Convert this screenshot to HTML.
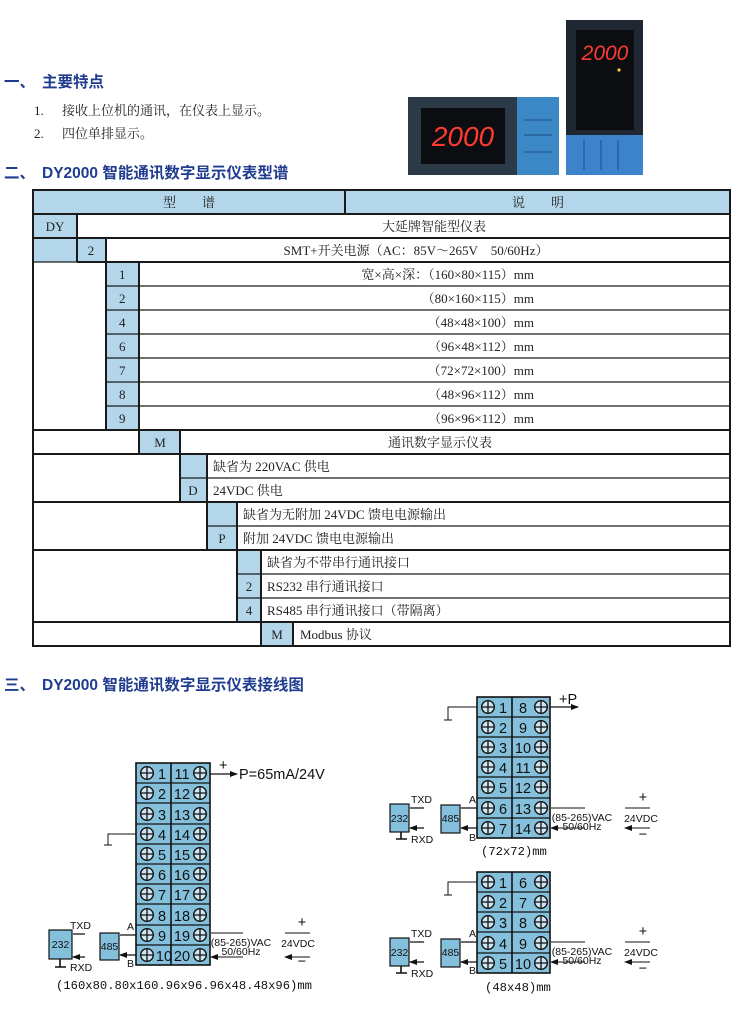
<!DOCTYPE html>
<html><head><meta charset="utf-8">
<style>
html,body{margin:0;padding:0;background:#fff;width:735px;height:1010px;overflow:hidden}
svg{display:block}
.h{font-family:"Liberation Sans","Noto Sans CJK SC",sans-serif;font-size:15.5px;fill:#1f3c8f;font-weight:bold}
.s{font-family:"Liberation Serif","Noto Serif CJK SC",serif;font-size:13px;fill:#222}
.n{font-family:"Liberation Sans",sans-serif;font-size:14.5px;fill:#111}
.sm{font-family:"Liberation Sans",sans-serif;font-size:10.5px;fill:#111}
.m{font-family:"Liberation Mono",monospace;font-size:12.2px;fill:#111}
</style></head><body>
<svg width="735" height="1010" viewBox="0 0 735 1010" xmlns="http://www.w3.org/2000/svg">
<defs>
<symbol id="t" viewBox="-7 -7 14 14" overflow="visible">
<circle r="6.3" fill="#cfe6f2" stroke="#111" stroke-width="1.4"/>
<path d="M-6.3 0H6.3M0 -6.3V6.3" stroke="#111" stroke-width="1.3"/>
</symbol>
<marker id="a" markerWidth="8" markerHeight="6" refX="7" refY="3" orient="auto" markerUnits="userSpaceOnUse">
<path d="M0 0L8 3L0 6Z" fill="#111"/></marker>
</defs>

<text x="4" y="87" class="h">一、</text><text x="42" y="87" class="h">主要特点</text>
<text x="34" y="115" class="s">1.</text><text x="62" y="115" class="s">接收上位机的通讯，在仪表上显示。</text>
<text x="34" y="138" class="s">2.</text><text x="62" y="138" class="s">四位单排显示。</text>
<text x="4" y="178" class="h">二、</text><text x="42" y="178" class="h">DY2000 智能通讯数字显示仪表型谱</text>
<text x="4" y="690" class="h">三、</text><text x="42" y="690" class="h">DY2000 智能通讯数字显示仪表接线图</text>

<rect x="408" y="97" width="110" height="78" fill="#2b3a46"/>
<rect x="421" y="108" width="84" height="56" fill="#0b0d10"/>
<text x="463" y="146" text-anchor="middle" font-family="Liberation Sans,sans-serif" font-size="28" font-style="italic" fill="#ff3a30">2000</text>
<rect x="517" y="97" width="42" height="78" fill="#3c87c6"/>
<path d="M524 120H552M524 135H552M524 152H552" stroke="#1d4f80"/>
<rect x="566" y="20" width="77" height="116" fill="#1f2832"/>
<rect x="576" y="30" width="58" height="100" fill="#0b0d10"/>
<text x="605" y="60" text-anchor="middle" font-family="Liberation Sans,sans-serif" font-size="21" font-style="italic" fill="#ff3a30">2000</text>
<circle cx="619" cy="70" r="1.6" fill="#ffc640"/>
<rect x="566" y="135" width="77" height="40" fill="#3c83cc"/>
<path d="M584 140V170M601 140V170M618 140V170" stroke="#1d4f80"/>

<g>
<rect x="33" y="190" width="697" height="24" fill="#b3d6ea"/>
<rect x="33" y="214" width="44" height="48" fill="#b3d6ea"/>
<rect x="77" y="238" width="29" height="24" fill="#b3d6ea"/>
<rect x="106" y="262" width="33" height="168" fill="#b3d6ea"/>
<rect x="139" y="430" width="41" height="24" fill="#b3d6ea"/>
<rect x="180" y="454" width="27" height="48" fill="#b3d6ea"/>
<rect x="207" y="502" width="30" height="48" fill="#b3d6ea"/>
<rect x="237" y="550" width="24" height="72" fill="#b3d6ea"/>
<rect x="261" y="622" width="32" height="24" fill="#b3d6ea"/>
<g stroke="#1a1a1a" stroke-width="2" fill="none">
<rect x="33" y="190" width="697" height="456"/>
<path d="M33 214H730M33 238H730M77 262H730M33 430H730M33 454H730M33 502H730M33 550H730M33 622H730"/>
<path d="M345 190V214M77 214V262M106 238V430M139 262V454M180 430V502M207 454V550M237 502V622M261 550V646M293 622V646"/>
</g>
<g stroke="#1a1a1a" stroke-width="1.3">
<path d="M106 286H730M106 310H730M106 334H730M106 358H730M106 382H730M106 406H730M180 478H730M207 526H730M237 574H730M237 598H730M33 262H77"/>
</g>
<text x="189" y="207" class="s" text-anchor="middle">型　　谱</text>
<text x="538" y="207" class="s" text-anchor="middle">说　　明</text>
<text x="55" y="231" class="s" text-anchor="middle">DY</text>
<text x="434" y="231" class="s" text-anchor="middle">大延牌智能型仪表</text>
<text x="91" y="255" class="s" text-anchor="middle">2</text>
<text x="416" y="255" class="s" text-anchor="middle">SMT+开关电源（AC：85V～265V　50/60Hz）</text>
<g class="s">
<text x="119" y="279">1</text><text x="119" y="303">2</text><text x="119" y="327">4</text><text x="119" y="351">6</text><text x="119" y="375">7</text><text x="119" y="399">8</text><text x="119" y="423">9</text>
</g>
<g class="s" text-anchor="end">
<text x="534" y="279">宽×高×深：（160×80×115）mm</text>
<text x="534" y="303">（80×160×115）mm</text>
<text x="534" y="327">（48×48×100）mm</text>
<text x="534" y="351">（96×48×112）mm</text>
<text x="534" y="375">（72×72×100）mm</text>
<text x="534" y="399">（48×96×112）mm</text>
<text x="534" y="423">（96×96×112）mm</text>
</g>
<text x="160" y="447" class="s" text-anchor="middle">M</text>
<text x="440" y="447" class="s" text-anchor="middle">通讯数字显示仪表</text>
<text x="213" y="471" class="s">缺省为 220VAC 供电</text>
<text x="193" y="495" class="s" text-anchor="middle">D</text><text x="213" y="495" class="s">24VDC 供电</text>
<text x="243" y="519" class="s">缺省为无附加 24VDC 馈电电源输出</text>
<text x="222" y="543" class="s" text-anchor="middle">P</text><text x="243" y="543" class="s">附加 24VDC 馈电电源输出</text>
<text x="267" y="567" class="s">缺省为不带串行通讯接口</text>
<text x="249" y="591" class="s" text-anchor="middle">2</text><text x="267" y="591" class="s">RS232 串行通讯接口</text>
<text x="249" y="615" class="s" text-anchor="middle">4</text><text x="267" y="615" class="s">RS485 串行通讯接口（带隔离）</text>
<text x="277" y="639" class="s" text-anchor="middle">M</text><text x="300" y="639" class="s">Modbus 协议</text>
</g>

<!-- Diagram 1 -->
<g>
<rect x="136" y="763" width="74" height="202" fill="#84c0dc" stroke="#111" stroke-width="1.6"/>
<path d="M171 763V965" stroke="#111" stroke-width="1.6"/>
<path d="M136 783H210M136 803H210M136 824H210M136 844H210M136 864H210M136 884H210M136 904H210M136 925H210M136 945H210" stroke="#111" stroke-width="1.2"/>
<g>
<use href="#t" x="140" y="766" width="14" height="14"/><use href="#t" x="140" y="786" width="14" height="14"/><use href="#t" x="140" y="807" width="14" height="14"/><use href="#t" x="140" y="827" width="14" height="14"/><use href="#t" x="140" y="847" width="14" height="14"/><use href="#t" x="140" y="867" width="14" height="14"/><use href="#t" x="140" y="887" width="14" height="14"/><use href="#t" x="140" y="908" width="14" height="14"/><use href="#t" x="140" y="928" width="14" height="14"/><use href="#t" x="140" y="948" width="14" height="14"/>
<use href="#t" x="193" y="766" width="14" height="14"/><use href="#t" x="193" y="786" width="14" height="14"/><use href="#t" x="193" y="807" width="14" height="14"/><use href="#t" x="193" y="827" width="14" height="14"/><use href="#t" x="193" y="847" width="14" height="14"/><use href="#t" x="193" y="867" width="14" height="14"/><use href="#t" x="193" y="887" width="14" height="14"/><use href="#t" x="193" y="908" width="14" height="14"/><use href="#t" x="193" y="928" width="14" height="14"/><use href="#t" x="193" y="948" width="14" height="14"/>
</g>
<g class="n" text-anchor="middle">
<text x="162" y="779">1</text><text x="162" y="799">2</text><text x="162" y="820">3</text><text x="162" y="840">4</text><text x="162" y="860">5</text><text x="162" y="880">6</text><text x="162" y="900">7</text><text x="162" y="921">8</text><text x="162" y="941">9</text><text x="164" y="961">10</text>
<text x="182" y="779">11</text><text x="182" y="799">12</text><text x="182" y="820">13</text><text x="182" y="840">14</text><text x="182" y="860">15</text><text x="182" y="880">16</text><text x="182" y="900">17</text><text x="182" y="921">18</text><text x="182" y="941">19</text><text x="182" y="961">20</text>
</g>
<path d="M210 774H237" stroke="#111" stroke-width="1.2" marker-end="url(#a)"/>
<text x="219" y="770" class="n" font-size="12">+</text>
<text x="239" y="779" class="n" font-size="13">P=65mA/24V</text>
<path d="M136 834H108V845M104 845H112" stroke="#111" stroke-width="1" fill="none"/>
<path d="M136 935H120M136 955H120" stroke="#111" stroke-width="1.2" marker-end="url(#a)"/>
<text x="127" y="930" class="sm">A</text><text x="127" y="967" class="sm">B</text>
<rect x="100" y="933" width="19" height="27" fill="#84c0dc" stroke="#111" stroke-width="1.2"/>
<text x="109.5" y="950" class="sm" text-anchor="middle">485</text>
<rect x="49" y="930" width="23" height="29" fill="#84c0dc" stroke="#111" stroke-width="1.2"/>
<text x="60.5" y="948" class="sm" text-anchor="middle">232</text>
<path d="M85 934H73M85 957H73" stroke="#111" stroke-width="1.2" marker-end="url(#a)"/>
<text x="70" y="929" class="sm">TXD</text><text x="70" y="971" class="sm">RXD</text>
<path d="M60 959V967M55 967H66" stroke="#111" stroke-width="1.6"/>
<path d="M243 933H211M243 957H211" stroke="#111" stroke-width="1.1" marker-end="url(#a)"/>
<text x="241" y="946" class="sm" text-anchor="middle">(85-265)VAC</text>
<text x="241" y="955" class="sm" text-anchor="middle">50/60Hz</text>
<path d="M310 933H285M310 957H285" stroke="#111" stroke-width="1.1" marker-end="url(#a)"/>
<text x="302" y="927" class="n" font-size="12" text-anchor="middle">+</text>
<text x="298" y="947" class="sm" text-anchor="middle">24VDC</text>
<text x="302" y="966" class="n" font-size="12" text-anchor="middle">−</text>
<text x="56" y="989" class="m">(160x80.80x160.96x96.96x48.48x96)mm</text>
</g>

<!-- Diagram 2 -->
<g>
<rect x="477" y="697" width="73" height="141" fill="#84c0dc" stroke="#111" stroke-width="1.6"/>
<path d="M512 697V838" stroke="#111" stroke-width="1.6"/>
<path d="M477 717H550M477 737H550M477 757H550M477 777H550M477 798H550M477 818H550" stroke="#111" stroke-width="1.2"/>
<use href="#t" x="481" y="700" width="14" height="14"/><use href="#t" x="481" y="720" width="14" height="14"/><use href="#t" x="481" y="740" width="14" height="14"/><use href="#t" x="481" y="760" width="14" height="14"/><use href="#t" x="481" y="780" width="14" height="14"/><use href="#t" x="481" y="801" width="14" height="14"/><use href="#t" x="481" y="821" width="14" height="14"/>
<use href="#t" x="534" y="700" width="14" height="14"/><use href="#t" x="534" y="720" width="14" height="14"/><use href="#t" x="534" y="740" width="14" height="14"/><use href="#t" x="534" y="760" width="14" height="14"/><use href="#t" x="534" y="780" width="14" height="14"/><use href="#t" x="534" y="801" width="14" height="14"/><use href="#t" x="534" y="821" width="14" height="14"/>
<g class="n" text-anchor="middle">
<text x="503" y="713">1</text><text x="503" y="733">2</text><text x="503" y="753">3</text><text x="503" y="773">4</text><text x="503" y="793">5</text><text x="503" y="814">6</text><text x="503" y="834">7</text>
<text x="523" y="713">8</text><text x="523" y="733">9</text><text x="523" y="753">10</text><text x="523" y="773">11</text><text x="523" y="793">12</text><text x="523" y="814">13</text><text x="523" y="834">14</text>
</g>
<path d="M550 707H578" stroke="#111" stroke-width="1.2" marker-end="url(#a)"/>
<text x="559" y="704" class="n" font-size="13">+P</text>
<path d="M477 707H448V720M444 720H452" stroke="#111" stroke-width="1" fill="none"/>
<path d="M477 808H461M477 828H461" stroke="#111" stroke-width="1.2" marker-end="url(#a)"/>
<text x="469" y="803" class="sm">A</text><text x="469" y="841" class="sm">B</text>
<rect x="441" y="805" width="19" height="28" fill="#84c0dc" stroke="#111" stroke-width="1.2"/>
<text x="450.5" y="822" class="sm" text-anchor="middle">485</text>
<rect x="390" y="804" width="19" height="28" fill="#84c0dc" stroke="#111" stroke-width="1.2"/>
<text x="399.5" y="822" class="sm" text-anchor="middle">232</text>
<path d="M424 808H410M424 828H410" stroke="#111" stroke-width="1.2" marker-end="url(#a)"/>
<text x="411" y="803" class="sm">TXD</text><text x="411" y="843" class="sm">RXD</text>
<path d="M401 832V839M396 839H407" stroke="#111" stroke-width="1.6"/>
<path d="M585 808H551M585 828H551" stroke="#111" stroke-width="1.1" marker-end="url(#a)"/>
<text x="582" y="821" class="sm" text-anchor="middle">(85-265)VAC</text>
<text x="582" y="830" class="sm" text-anchor="middle">50/60Hz</text>
<path d="M650 808H625M650 828H625" stroke="#111" stroke-width="1.1" marker-end="url(#a)"/>
<text x="643" y="802" class="n" font-size="12" text-anchor="middle">+</text>
<text x="641" y="822" class="sm" text-anchor="middle">24VDC</text>
<text x="643" y="839" class="n" font-size="12" text-anchor="middle">−</text>
<text x="481" y="855" class="m">(72x72)mm</text>
</g>

<!-- Diagram 3 -->
<g>
<rect x="477" y="872" width="73" height="101" fill="#84c0dc" stroke="#111" stroke-width="1.6"/>
<path d="M512 872V973" stroke="#111" stroke-width="1.6"/>
<path d="M477 892H550M477 912H550M477 932H550M477 953H550" stroke="#111" stroke-width="1.2"/>
<use href="#t" x="481" y="875" width="14" height="14"/><use href="#t" x="481" y="895" width="14" height="14"/><use href="#t" x="481" y="915" width="14" height="14"/><use href="#t" x="481" y="936" width="14" height="14"/><use href="#t" x="481" y="956" width="14" height="14"/>
<use href="#t" x="534" y="875" width="14" height="14"/><use href="#t" x="534" y="895" width="14" height="14"/><use href="#t" x="534" y="915" width="14" height="14"/><use href="#t" x="534" y="936" width="14" height="14"/><use href="#t" x="534" y="956" width="14" height="14"/>
<g class="n" text-anchor="middle">
<text x="503" y="888">1</text><text x="503" y="908">2</text><text x="503" y="928">3</text><text x="503" y="949">4</text><text x="503" y="969">5</text>
<text x="523" y="888">6</text><text x="523" y="908">7</text><text x="523" y="928">8</text><text x="523" y="949">9</text><text x="523" y="969">10</text>
</g>
<path d="M477 882H448V895M444 895H452" stroke="#111" stroke-width="1" fill="none"/>
<path d="M477 942H461M477 962H461" stroke="#111" stroke-width="1.2" marker-end="url(#a)"/>
<text x="469" y="937" class="sm">A</text><text x="469" y="974" class="sm">B</text>
<rect x="441" y="939" width="19" height="28" fill="#84c0dc" stroke="#111" stroke-width="1.2"/>
<text x="450.5" y="956" class="sm" text-anchor="middle">485</text>
<rect x="390" y="938" width="19" height="28" fill="#84c0dc" stroke="#111" stroke-width="1.2"/>
<text x="399.5" y="956" class="sm" text-anchor="middle">232</text>
<path d="M424 942H410M424 962H410" stroke="#111" stroke-width="1.2" marker-end="url(#a)"/>
<text x="411" y="937" class="sm">TXD</text><text x="411" y="977" class="sm">RXD</text>
<path d="M401 966V973M396 973H407" stroke="#111" stroke-width="1.6"/>
<path d="M585 942H551M585 962H551" stroke="#111" stroke-width="1.1" marker-end="url(#a)"/>
<text x="582" y="955" class="sm" text-anchor="middle">(85-265)VAC</text>
<text x="582" y="964" class="sm" text-anchor="middle">50/60Hz</text>
<path d="M650 942H625M650 962H625" stroke="#111" stroke-width="1.1" marker-end="url(#a)"/>
<text x="643" y="936" class="n" font-size="12" text-anchor="middle">+</text>
<text x="641" y="956" class="sm" text-anchor="middle">24VDC</text>
<text x="643" y="973" class="n" font-size="12" text-anchor="middle">−</text>
<text x="485" y="991" class="m">(48x48)mm</text>
</g>
</svg>
</body></html>
